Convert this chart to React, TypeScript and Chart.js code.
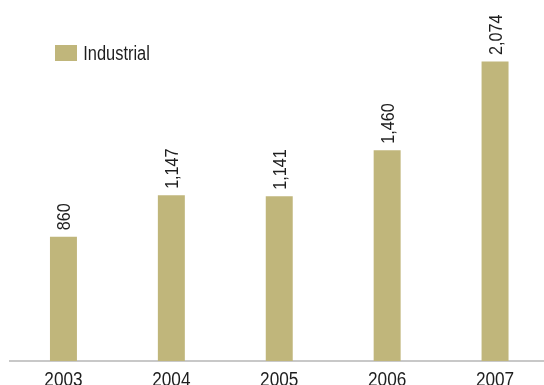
import React, { useEffect, useRef } from "react";
import { Chart, registerables } from "chart.js";

Chart.register(...registerables);

const categories = ["2003", "2004", "2005", "2006", "2007"];
const industrialValues = [860, 1147, 1141, 1460, 2074];
const seriesLabel = "Industrial";
const yMin = 0;
const yMax = 2500;

const BAR_COLOR = "rgb(192, 182, 123)";
const TEXT_COLOR = "#1e1e1e";
const FONT_FAMILY = "'Liberation Sans Narrow', 'Liberation Sans', Arial, sans-serif";

// Draw text horizontally condensed (approximates the narrow face of the original)
function drawCondensed(ctx: CanvasRenderingContext2D, text: string, x: number, y: number, sx: number, rot = 0) {
  ctx.save();
  ctx.translate(x, y);
  if (rot) ctx.rotate(rot);
  ctx.scale(sx, 1);
  ctx.fillText(text, 0, 0);
  ctx.restore();
}

const valueLabelPlugin = {
  id: "valueLabels",
  afterDatasetsDraw(chart: any) {
    const ctx = chart.ctx;
    ctx.save();
    ctx.font = `19px ${FONT_FAMILY}`;
    ctx.fillStyle = TEXT_COLOR;
    ctx.textAlign = "left";
    ctx.textBaseline = "middle";
    chart.data.datasets.forEach((ds: any, di: number) => {
      const meta = chart.getDatasetMeta(di);
      meta.data.forEach((bar: any, i: number) => {
        const v = ds.data[i] as number;
        drawCondensed(ctx, v.toLocaleString("en-US"), bar.x + 1.5, bar.y - 6.5, 0.85, -Math.PI / 2);
      });
    });
    ctx.restore();
  },
};

const xLabelPlugin = {
  id: "xLabels",
  afterDraw(chart: any) {
    const ctx = chart.ctx;
    const scale = chart.scales.x;
    ctx.save();
    ctx.font = `20px ${FONT_FAMILY}`;
    ctx.fillStyle = TEXT_COLOR;
    ctx.textAlign = "center";
    ctx.textBaseline = "alphabetic";
    scale.ticks.forEach((t: any, i: number) => {
      const label = String(scale.getLabelForValue(t.value));
      drawCondensed(ctx, label, scale.getPixelForTick(i), scale.top + 24.5, 0.86);
    });
    ctx.restore();
  },
};

const legendPlugin = {
  id: "customLegend",
  afterDraw(chart: any) {
    const ctx = chart.ctx;
    const ds = chart.data.datasets[0];
    ctx.save();
    ctx.fillStyle = ds.backgroundColor;
    ctx.fillRect(55, 45, 22, 16);
    ctx.font = `20px ${FONT_FAMILY}`;
    ctx.fillStyle = TEXT_COLOR;
    ctx.textAlign = "left";
    ctx.textBaseline = "alphabetic";
    drawCondensed(ctx, ds.label, 83.3, 60.3, 0.82);
    ctx.restore();
  },
};

export default function App() {
  const canvasRef = useRef<HTMLCanvasElement | null>(null);

  useEffect(() => {
    document.body.style.margin = "0";
    document.body.style.overflow = "hidden";
    const canvas = canvasRef.current;
    if (!canvas) return;
    const chart = new Chart(canvas, {
      type: "bar",
      data: {
        labels: categories,
        datasets: [
          {
            label: seriesLabel,
            data: industrialValues,
            backgroundColor: BAR_COLOR,
            borderWidth: 0,
            categoryPercentage: 1,
            barPercentage: 0.25,
          },
        ],
      },
      options: {
        responsive: false,
        animation: false,
        devicePixelRatio: 1,
        layout: { padding: { left: 9.5, right: 0, top: 0, bottom: 24 } },
        plugins: {
          legend: { display: false },
          tooltip: { enabled: false },
        },
        scales: {
          x: {
            grid: { display: false, drawTicks: false },
            border: { display: true, color: "#c8c8c8", width: 2 },
            ticks: { display: false },
          },
          y: {
            display: false,
            min: yMin,
            max: yMax,
          },
        },
      },
      plugins: [valueLabelPlugin, xLabelPlugin, legendPlugin],
    });
    return () => chart.destroy();
  }, []);

  return (
    <div style={{ position: "absolute", left: 0, top: 0, width: 544, height: 385, overflow: "hidden" }}>
      <canvas ref={canvasRef} width={549} height={385} style={{ display: "block" }} />
    </div>
  );
}
